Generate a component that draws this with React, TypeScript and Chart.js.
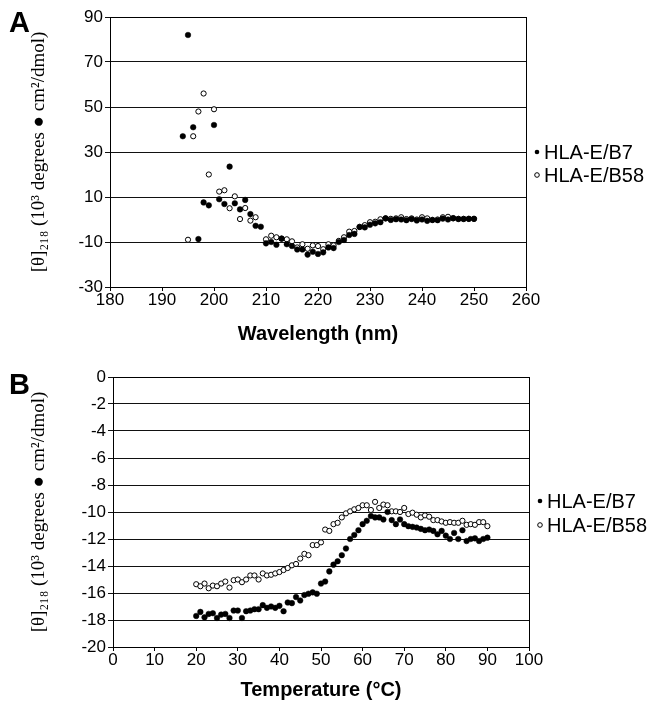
import React, { useEffect, useRef } from "react";
import { Chart, registerables } from "chart.js";

Chart.register(...registerables);

// ---------- Panel A: CD spectra ----------
const wavelengthNm = [
  194, 195, 196, 197, 198, 199, 200, 201, 202, 203, 204, 205, 206, 207, 208, 209,
  210, 211, 212, 213, 214, 215, 216, 217, 218, 219, 220, 221, 222, 223, 224, 225,
  226, 227, 228, 229, 230, 231, 232, 233, 234, 235, 236, 237, 238, 239, 240, 241,
  242, 243, 244, 245, 246, 247, 248, 249, 250,
];
const b7Spectrum: (number | null)[] = [
  37, 82, 41, -8.7, 7.6, 6.3, 42, 9, 6.9, 23.5, 7.2, 4.5, 8.7, 2.4, -2.8, -3.2,
  -10.6, -10, -11.2, -8.5, -11, -11.8, -13.3, -13.3, -15.6, -14.3, -15.3, -14.6, -12.4, -12.7, -10, -9.1,
  -6.9, -6.4, -3.3, -3.5, -2.3, -1.7, -1.2, 0.5, -0.2, 0.1, 0, -0.3, 0.2, -0.4, 0, -0.6,
  -0.2, -0.3, 0.4, 0, 0.6, 0.2, 0.2, 0.3, 0.3,
];
const b58Spectrum: (number | null)[] = [
  null, -9, 37, 48, 56, 20, 49, 12.4, 13, 5, 10.3, 0.2, 5.1, -0.5, 1, null,
  -8.8, -7.2, -7.9, -8.5, -8.8, -9.7, -12.4, -11, -13, -11.5, -11.8, -13.2, -11, -11.5, -9.5, -7.9,
  -5.4, -5.1, -3.3, -2.5, -1.2, -1, 0.1, 0.5, 0.3, 0.5, 1, 0.2, 0.5, 0, 1, 0.5,
  -0.2, 0, 1, 1.2, 0.5, 0.3, 0.3, 0.3, 0.3,
];
const wavelengthAxis = { min: 180, max: 260, step: 10 };
const spectrumAxis = { min: -30, max: 90, step: 20 };

// ---------- Panel B: thermal melts ----------
const temperatureC = [
  20, 21, 22, 23, 24, 25, 26, 27, 28, 29, 30, 31, 32, 33, 34, 35, 36, 37, 38, 39,
  40, 41, 42, 43, 44, 45, 46, 47, 48, 49, 50, 51, 52, 53, 54, 55, 56, 57, 58, 59,
  60, 61, 62, 63, 64, 65, 66, 67, 68, 69, 70, 71, 72, 73, 74, 75, 76, 77, 78, 79,
  80, 81, 82, 83, 84, 85, 86, 87, 88, 89, 90,
];
const b7Melt = [
  -17.7, -17.4, -17.8, -17.55, -17.5, -17.85, -17.6, -17.55, -17.85, -17.3,
  -17.3, -17.85, -17.35, -17.3, -17.2, -17.2, -16.9, -17.1, -17.0, -17.1,
  -16.95, -17.35, -16.7, -16.75, -16.3, -16.55, -16.15, -16.05, -15.95, -16.05,
  -15.3, -15.15, -14.4, -13.9, -13.65, -13.2, -12.7, -12.0, -11.7, -11.35,
  -10.9, -10.65, -10.3, -10.4, -10.4, -10.55, -10.0, -10.6, -10.9, -10.55,
  -10.9, -11.05, -11.1, -11.15, -11.25, -11.35, -11.3, -11.4, -11.65, -11.4,
  -11.75, -12.0, -11.55, -12.0, -11.35, -12.15, -12.0, -11.95, -12.15, -12.0, -11.9,
];
const b58Melt = [
  -15.35, -15.5, -15.3, -15.65, -15.45, -15.5, -15.3, -15.15, -15.6, -15.05,
  -15.0, -15.2, -15.0, -14.7, -14.7, -15.0, -14.55, -14.7, -14.65, -14.55,
  -14.45, -14.3, -14.15, -13.95, -13.85, -13.45, -13.1, -13.2, -12.45, -12.45,
  -12.25, -11.3, -11.4, -10.9, -10.8, -10.4, -10.1, -9.95, -9.8, -9.7,
  -9.5, -9.5, -9.85, -9.25, -9.7, -9.45, -9.5, -9.95, -9.95, -10.0,
  -9.7, -10.15, -10.05, -10.2, -10.4, -10.25, -10.35, -10.6, -10.6, -10.7,
  -10.8, -10.75, -10.8, -10.8, -10.65, -10.95, -10.9, -10.95, -10.75, -10.75, -11.05,
];
const temperatureAxis = { min: 0, max: 100, step: 10 };
const meltAxis = { min: -20, max: 0, step: 2 };

const seriesNames = ["HLA-E/B7", "HLA-E/B58"];
const yTitle = "[θ]₂₁₈ (10³ degrees ● cm²/dmol)";

const SANS = '"Liberation Sans", Arial, Helvetica, sans-serif';
const SERIF = '"Liberation Serif", "DejaVu Serif", "Times New Roman", serif';

function toPoints(xs: number[], ys: (number | null)[]) {
  const out: { x: number; y: number }[] = [];
  xs.forEach((x, i) => {
    const y = ys[i];
    if (y !== null && y !== undefined) out.push({ x, y });
  });
  return out;
}

const framePlugin = {
  id: "frameLegend",
  afterDraw(chart: any, _args: any, opts: any) {
    const { ctx, chartArea: a } = chart;
    ctx.save();
    ctx.strokeStyle = "#000";
    ctx.lineWidth = 1;
    ctx.strokeRect(
      Math.round(a.left) + 0.5,
      Math.round(a.top) + 0.5,
      Math.round(a.right - a.left),
      Math.round(a.bottom - a.top)
    );
    ctx.font = "20px " + SANS;
    ctx.textBaseline = "middle";
    ctx.textAlign = "left";
    (opts.rows || []).forEach((row: any, i: number) => {
      const y = a.top + row.dy;
      const mx = a.right + opts.markerDx;
      ctx.beginPath();
      ctx.arc(mx, y, 2.3, 0, Math.PI * 2);
      if (i === 0) {
        ctx.fillStyle = "#000";
        ctx.fill();
      } else {
        ctx.fillStyle = "#fff";
        ctx.fill();
        ctx.lineWidth = 1;
        ctx.strokeStyle = "#000";
        ctx.stroke();
      }
      ctx.fillStyle = "#000";
      ctx.fillText(seriesNames[i], a.right + opts.textDx, y + 1);
    });
    ctx.restore();
  },
};

type PanelProps = {
  top: number;
  height: number;
  xs: number[];
  filled: (number | null)[];
  open: (number | null)[];
  xAxis: { min: number; max: number; step: number };
  yAxis: { min: number; max: number; step: number };
  xTitle: string;
  pad: { left: number; right: number; top: number; bottom: number };
  yWidth: number;
  xHeight: number;
  legendRows: number[];
};

function Panel(p: PanelProps) {
  const ref = useRef<HTMLCanvasElement | null>(null);
  useEffect(() => {
    if (!ref.current) return;
    const chart = new Chart(ref.current, {
      type: "scatter",
      data: {
        datasets: [
          {
            label: seriesNames[0],
            data: toPoints(p.xs, p.filled),
            pointStyle: "circle",
            pointRadius: 2.8,
            pointBackgroundColor: "#000",
            pointBorderColor: "#000",
            pointBorderWidth: 0.5,
            showLine: false,
          },
          {
            label: seriesNames[1],
            data: toPoints(p.xs, p.open),
            pointStyle: "circle",
            pointRadius: 2.6,
            pointBackgroundColor: "#fff",
            pointBorderColor: "#000",
            pointBorderWidth: 1,
            showLine: false,
          },
        ],
      },
      options: {
        responsive: false,
        animation: false,
        events: [],
        layout: { padding: p.pad },
        plugins: {
          legend: { display: false },
          tooltip: { enabled: false },
          frameLegend: { rows: p.legendRows.map((dy) => ({ dy })), markerDx: 11, textDx: 18 },
        } as any,
        scales: {
          x: {
            type: "linear",
            min: p.xAxis.min,
            max: p.xAxis.max,
            afterFit: (s: any) => {
              s.height = p.xHeight;
            },
            ticks: {
              stepSize: p.xAxis.step,
              color: "#000",
              font: { family: SANS, size: 17 },
              padding: -1,
              maxRotation: 0,
            },
            grid: {
              drawOnChartArea: false,
              drawTicks: true,
              tickLength: 4,
              color: "#000",
            },
            border: { display: true, color: "#000", width: 1 },
            title: {
              display: true,
              text: p.xTitle,
              color: "#000",
              font: { family: SANS, size: 20, weight: "bold" },
              padding: { top: 0, bottom: 4 },
            },
          },
          y: {
            type: "linear",
            min: p.yAxis.min,
            max: p.yAxis.max,
            afterFit: (s: any) => {
              s.width = p.yWidth;
            },
            ticks: {
              stepSize: p.yAxis.step,
              color: "#000",
              font: { family: SANS, size: 17 },
              padding: 2,
            },
            grid: {
              drawOnChartArea: true,
              drawTicks: true,
              tickLength: 5,
              color: "#111",
              lineWidth: 1,
            },
            border: { display: true, color: "#000", width: 1 },
            title: {
              display: true,
              text: yTitle,
              color: "#000",
              font: { family: SERIF, size: 19 },
              padding: { top: 8, bottom: 0 },
            },
          },
        },
      },
      plugins: [framePlugin as any],
    });
    return () => chart.destroy();
  }, []);
  return (
    <canvas
      ref={ref}
      width={654}
      height={p.height}
      style={{ position: "absolute", left: 0, top: p.top, width: 654, height: p.height }}
    />
  );
}

const letterStyle: React.CSSProperties = {
  position: "absolute",
  left: 9,
  fontFamily: SANS,
  fontWeight: "bold",
  fontSize: 29,
  lineHeight: "29px",
  color: "#000",
};

export default function App() {
  return (
    <div style={{ position: "absolute", left: 0, top: 0, width: 654, height: 706, background: "#fff" }}>
      <Panel
        top={0}
        height={350}
        xs={wavelengthNm}
        filled={b7Spectrum}
        open={b58Spectrum}
        xAxis={wavelengthAxis}
        yAxis={spectrumAxis}
        xTitle="Wavelength (nm)"
        pad={{ left: 20, right: 128, top: 17, bottom: 0 }}
        yWidth={90}
        xHeight={63}
        legendRows={[135, 158]}
      />
      <Panel
        top={355}
        height={351}
        xs={temperatureC}
        filled={b7Melt}
        open={b58Melt}
        xAxis={temperatureAxis}
        yAxis={meltAxis}
        xTitle="Temperature (°C)"
        pad={{ left: 20, right: 125, top: 22, bottom: 0 }}
        yWidth={93}
        xHeight={59}
        legendRows={[124, 148]}
      />
      <div style={{ ...letterStyle, top: 8 }}>A</div>
      <div style={{ ...letterStyle, top: 370 }}>B</div>
    </div>
  );
}
